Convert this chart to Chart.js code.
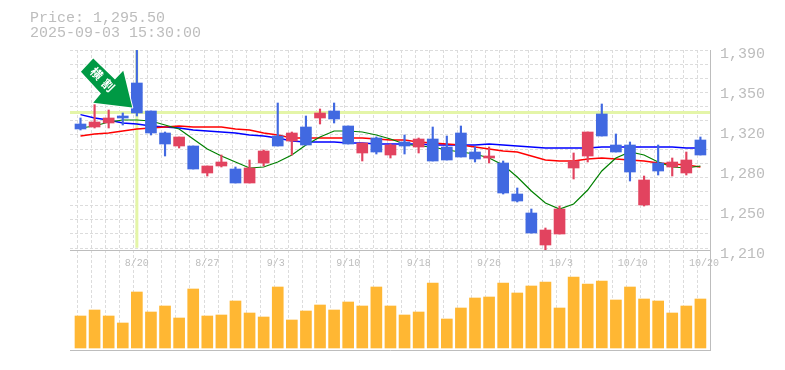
<!DOCTYPE html>
<html lang="ja">

<head>
    <meta charset="UTF-8">
    <title>Price chart</title>
    <script src="https://cdn.jsdelivr.net/npm/chart.js"></script>
    <style>
        html, body { margin: 0; padding: 0; background: #fff; overflow: hidden; }
        canvas { position: absolute; left: 0; }
        #priceChart { top: 0; z-index: 2; }
        #volumeChart { top: 250px; z-index: 1; }
        .info {
            position: absolute; left: 30px; top: 11px; z-index: 3;
            font: 15px/15px "Liberation Mono", monospace; color: #bdbdbd; white-space: pre;
        }
    </style>
</head>

<body>
    <div class="info">Price: 1,295.50
2025-09-03 15:30:00</div>
    <canvas id="priceChart" width="785" height="290"></canvas>
    <canvas id="volumeChart" width="785" height="105"></canvas>

    <script>
        const opens = [1323.4, 1320.7, 1324.3, 1330.6, 1360.3, 1335.1, 1315.3, 1303.6, 1303.6, 1279.3, 1285.6, 1282.9, 1270.3, 1288.3, 1312.6, 1308.1, 1320.7, 1328.8, 1335.1, 1321.6, 1297.3, 1310.8, 1295.5, 1307.2, 1302.7, 1309.9, 1302.7, 1315.3, 1298.2, 1292.8, 1288.3, 1260.4, 1243.3, 1214.5, 1224.4, 1283.8, 1294.6, 1332.4, 1304.5, 1304.5, 1250.5, 1288.3, 1284.7, 1279.3, 1309];
        const highs = [1328.8, 1340.8, 1336, 1333.3, 1390, 1335.1, 1316.2, 1311.7, 1303.6, 1285.6, 1295.5, 1284.7, 1291, 1300, 1342.3, 1316.2, 1330.6, 1336.9, 1342.3, 1321.6, 1306.3, 1311.7, 1305.4, 1313.5, 1310.8, 1320.7, 1312.6, 1321.6, 1302.7, 1302.7, 1290.1, 1265.8, 1246.9, 1229.8, 1249.6, 1297.3, 1316.2, 1341.4, 1314.4, 1307.2, 1276.6, 1304.5, 1292.8, 1298.2, 1311.7];
        const lows = [1318, 1319.8, 1319.8, 1322.5, 1330.6, 1313.5, 1294.6, 1301.8, 1282.9, 1276.6, 1284.7, 1270.3, 1270.3, 1285.6, 1303.6, 1295.5, 1304.5, 1323.4, 1324.3, 1305.4, 1290.1, 1296.4, 1292.8, 1296.4, 1297.3, 1290.1, 1291, 1293.7, 1289.2, 1288.3, 1260.4, 1253.2, 1225.3, 1210, 1224.4, 1273.9, 1289.2, 1312.6, 1298.2, 1272.1, 1249.6, 1277.5, 1276.6, 1277.5, 1295.5];
        const closes = [1318.9, 1325.2, 1328.8, 1328.8, 1333.3, 1315.3, 1305.4, 1311.7, 1282.9, 1285.6, 1289.2, 1270.3, 1283.8, 1299.1, 1303.6, 1315.3, 1304.5, 1333.3, 1327.9, 1305.4, 1306.3, 1298.2, 1304.5, 1303.6, 1309.9, 1290.1, 1291, 1293.7, 1291.9, 1294.6, 1261.3, 1254.1, 1225.3, 1228, 1246.9, 1290.1, 1316.2, 1312.6, 1298.2, 1280.2, 1273, 1281.1, 1289.2, 1291, 1295.5];
        const volumes = [32, 38, 32, 25, 56, 36, 42, 30, 59, 32, 33, 47, 35, 31, 61, 28, 37, 43, 38, 46, 42, 61, 42, 33, 36, 65, 29, 40, 50, 51, 65, 55, 62, 66, 40, 71, 64, 67, 48, 61, 49, 47, 35, 42, 49];
        const maBlue = [1331.9, 1328.8, 1327, 1324.3, 1323.4, 1321.6, 1320.7, 1319.8, 1318, 1317.1, 1316.2, 1315.3, 1313.5, 1312.6, 1310.8, 1308.1, 1307.2, 1307.2, 1307.2, 1306.3, 1306.3, 1305.4, 1305.4, 1305.4, 1305.4, 1304.5, 1304.5, 1304.5, 1304.5, 1305.4, 1304.5, 1303.6, 1302.7, 1301.8, 1301.8, 1301.8, 1301.8, 1302.7, 1302.7, 1302.7, 1302.7, 1302.7, 1302.7, 1301.8, 1301.8];
        const maRed = [1312.6, 1314.4, 1315.3, 1317.1, 1318.9, 1319.8, 1320.7, 1321.6, 1320.7, 1320.7, 1320.7, 1318.9, 1318, 1315.3, 1313.5, 1310.8, 1310.8, 1310.8, 1310.8, 1310.8, 1310.8, 1309.9, 1309, 1309, 1307.2, 1306.3, 1305.4, 1304.5, 1302.7, 1300.9, 1299.1, 1298.2, 1294.6, 1291, 1290.1, 1290.1, 1291.9, 1292.8, 1291.9, 1291, 1290.1, 1288.3, 1287.4, 1286.5, 1284.7];
        const maGreen = [1319.8, 1321.6, 1325.2, 1327, 1327, 1326.1, 1322.5, 1318.9, 1309.9, 1300.9, 1294.6, 1289.2, 1283.8, 1284.7, 1289.2, 1295.5, 1304.5, 1311.7, 1317.1, 1317.1, 1316.2, 1313.5, 1309.9, 1305.4, 1303.6, 1302.7, 1300, 1298.2, 1296.4, 1292.8, 1286.5, 1275.7, 1263.1, 1252.3, 1246.9, 1251.4, 1264, 1281.1, 1292.8, 1298.2, 1295.5, 1289.2, 1284.7, 1283.8, 1285.6];

        const dateIndexes = [4, 9, 13.85, 19, 24, 29, 34.1, 39.2, 44.25];
        const dateLabels = ['8/20', '8/27', '9/3', '9/10', '9/18', '9/26', '10/3', '10/10', '10/20'];
        const priceTicks = [1390, 1354, 1318, 1282, 1246, 1210];
        const priceTickLabels = ['1,390', '1,350', '1,320', '1,280', '1,250', '1,210'];

        const markPrice = 1333.8;
        const markIndex = 4;
        const markText = ['横', '割'];

        // 軸の範囲 (x はローソクの番号)
        const xMin = -0.745, xMax = 44.68;
        const priceMin = 1210, priceMax = 1390;
        const volMin = -2, volMax = 98;
        const gridStepPrice = 12.73;
        const gridShift = 0.27;

        const UP = '#e2435f', DOWN = '#4169e1';
        const GRID = '#dcdcdc', FRAME = '#bdbdbd', TEXT = '#bdbdbd', MARK = '#e4f5a8';
        const MONO = '"Liberation Mono", monospace';

        const candleColors = opens.map((o, i) => closes[i] >= o ? UP : DOWN);

        function toPoints(values) {
            return values.map((v, i) => ({ x: i, y: v }));
        }

        function xGridTicks(scale) {
            const list = [{ value: xMin }];
            for (let i = 0; i < opens.length; i++) list.push({ value: i + gridShift });
            scale.ticks = list;
        }

        function yGridTicks(scale) {
            const list = [];
            for (let k = 0; k < 15; k++) list.push({ value: priceMax - k * gridStepPrice });
            scale.ticks = list;
        }

        const dashedGrid = { color: GRID, lineWidth: 1, drawTicks: false };
        const noGrid = { display: false, drawTicks: false };

        // 矢印 (先端からの相対位置)
        const arrowPlugin = {
            id: 'arrowMark',
            afterDatasetsDraw(chart) {
                const tipX = chart.scales.x.getPixelForValue(markIndex) - 4.6;
                const tipY = chart.scales.y.getPixelForValue(markPrice) - 5;
                const shape = [[0, 0], [-39, -4.6], [-31.3, -14], [-51.3, -35.6], [-39, -49], [-17.3, -28], [-9, -36.6]];
                const ctx = chart.ctx;
                ctx.save();
                ctx.beginPath();
                shape.forEach(([dx, dy], i) => {
                    if (i === 0) ctx.moveTo(tipX + dx, tipY + dy);
                    else ctx.lineTo(tipX + dx, tipY + dy);
                });
                ctx.closePath();
                ctx.lineJoin = 'round';
                ctx.lineWidth = 2;
                ctx.strokeStyle = '#fff';
                ctx.stroke();
                ctx.fillStyle = '#009944';
                ctx.fill();

                ctx.fillStyle = '#fff';
                ctx.font = 'bold 12px "Noto Sans CJK JP"';
                ctx.textAlign = 'center';
                ctx.textBaseline = 'middle';
                [[-35.6, -34], [-24, -22.3]].forEach(([dx, dy], i) => {
                    ctx.save();
                    ctx.translate(tipX + dx, tipY + dy);
                    ctx.rotate(Math.PI / 4);
                    ctx.fillText(markText[i], 0, 0);
                    ctx.restore();
                });
                ctx.restore();
            }
        };

        new Chart(document.getElementById('priceChart').getContext('2d'), {
            type: 'bar',
            data: {
                datasets: [
                    {
                        type: 'line', order: 9, borderColor: MARK, borderWidth: 3, pointRadius: 0, yAxisID: 'y',
                        data: [{ x: xMin, y: markPrice }, { x: xMax, y: markPrice }]
                    },
                    {
                        type: 'line', order: 8, borderColor: MARK, borderWidth: 3, pointRadius: 0, yAxisID: 'y',
                        data: [{ x: markIndex, y: priceMax }, { x: markIndex, y: 1212 }]
                    },
                    { type: 'line', order: 5, borderColor: '#0000ff', borderWidth: 1.3, pointRadius: 0, data: toPoints(maBlue) },
                    { type: 'line', order: 4, borderColor: '#ff0000', borderWidth: 1.3, pointRadius: 0, data: toPoints(maRed) },
                    { type: 'line', order: 3, borderColor: '#008000', borderWidth: 1.2, pointRadius: 0, data: toPoints(maGreen) },
                    {
                        order: 2, barThickness: 1.5, grouped: false, backgroundColor: candleColors,
                        data: lows.map((l, i) => ({ x: i, y: [l, highs[i]] }))
                    },
                    {
                        order: 1, barThickness: 11, grouped: false, backgroundColor: candleColors,
                        data: opens.map((o, i) => ({ x: i, y: [o, closes[i]] }))
                    }
                ]
            },
            options: {
                responsive: false,
                animation: false,
                devicePixelRatio: 1,
                layout: { padding: { left: 70, top: 50, right: 0, bottom: 0 } },
                plugins: { legend: { display: false }, tooltip: { enabled: false } },
                scales: {
                    x: {
                        type: 'linear', offset: false, min: xMin, max: xMax, position: 'bottom',
                        grid: noGrid,
                        border: { display: true, color: FRAME },
                        ticks: {
                            autoSkip: false, maxRotation: 0, padding: 7, color: TEXT,
                            font: { family: MONO, size: 10 },
                            callback: v => dateLabels[dateIndexes.indexOf(v)]
                        },
                        afterBuildTicks: scale => { scale.ticks = dateIndexes.map(v => ({ value: v })); },
                        afterFit: scale => { scale.height = 40; }
                    },
                    xGrid: {
                        type: 'linear', offset: false, min: xMin, max: xMax, position: 'bottom',
                        grid: dashedGrid,
                        border: { display: false, dash: [3, 2] },
                        ticks: { display: false },
                        afterBuildTicks: xGridTicks,
                        afterFit: scale => { scale.height = 0; }
                    },
                    y: {
                        min: priceMin, max: priceMax, position: 'right',
                        grid: noGrid,
                        border: { display: true, color: FRAME },
                        ticks: {
                            autoSkip: false, padding: 10, labelOffset: 4, color: TEXT,
                            font: { family: MONO, size: 15 },
                            callback: v => priceTickLabels[priceTicks.indexOf(v)]
                        },
                        afterBuildTicks: scale => { scale.ticks = priceTicks.map(v => ({ value: v })); },
                        afterFit: scale => { scale.width = 75; }
                    },
                    yGrid: {
                        min: priceMin, max: priceMax, position: 'right',
                        grid: dashedGrid,
                        border: { display: false, dash: [3, 2] },
                        ticks: { display: false },
                        afterBuildTicks: yGridTicks,
                        afterFit: scale => { scale.width = 0; }
                    }
                }
            },
            plugins: [arrowPlugin]
        });

        new Chart(document.getElementById('volumeChart').getContext('2d'), {
            type: 'bar',
            data: {
                datasets: [{
                    barThickness: 11, backgroundColor: '#ffb733',
                    data: volumes.map((v, i) => ({ x: i, y: v }))
                }]
            },
            options: {
                responsive: false,
                animation: false,
                devicePixelRatio: 1,
                layout: { padding: { left: 70, top: 0, right: 0, bottom: 0 } },
                plugins: { legend: { display: false }, tooltip: { enabled: false } },
                scales: {
                    x: {
                        type: 'linear', offset: false, min: xMin, max: xMax, position: 'bottom',
                        grid: dashedGrid,
                        border: { display: true, color: FRAME, dash: [3, 2] },
                        ticks: { display: false },
                        afterBuildTicks: xGridTicks,
                        afterFit: scale => { scale.height = 5; }
                    },
                    y: {
                        min: volMin, max: volMax, position: 'right',
                        grid: noGrid,
                        border: { display: true, color: FRAME },
                        ticks: { display: false },
                        afterFit: scale => { scale.width = 75; }
                    }
                }
            }
        });
    </script>
</body>

</html>
